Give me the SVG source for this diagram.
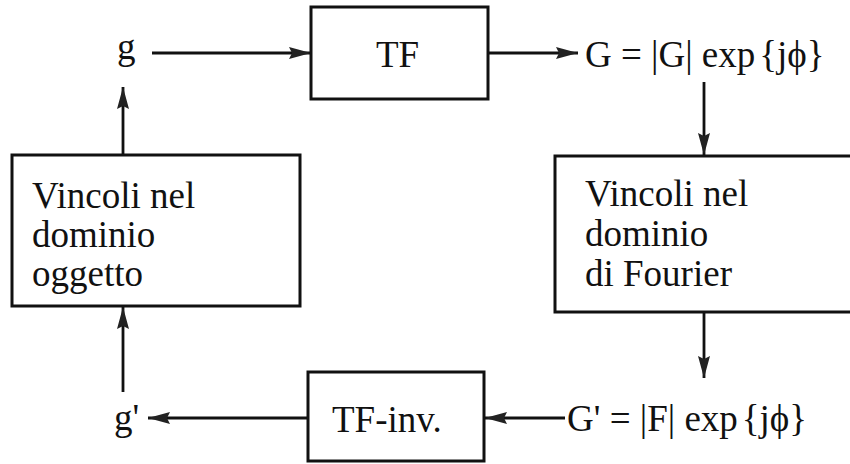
<svg xmlns="http://www.w3.org/2000/svg" width="850" height="464" viewBox="0 0 850 464">
<style>
text{font-family:"Liberation Serif","Times New Roman",serif;font-size:37px;fill:#111}
.box{fill:#fff;stroke:#111;stroke-width:3}
.ln{stroke:#111;stroke-width:2.8;fill:none}
</style>
<defs>
<marker id="ah" viewBox="0 0 22 12" refX="22" refY="6" markerWidth="22" markerHeight="12" markerUnits="userSpaceOnUse" orient="auto">
<path d="M0,0 L22,6 L0,12 L3,6 Z" fill="#222"/>
</marker>
</defs>
<rect width="850" height="464" fill="#fff"/>
<g id="connectors">
<line class="ln" x1="152" y1="53" x2="311" y2="53" marker-end="url(#ah)"/>
<line class="ln" x1="488" y1="53" x2="578" y2="53" marker-end="url(#ah)"/>
<line class="ln" x1="704" y1="82" x2="704" y2="155" marker-end="url(#ah)"/>
<line class="ln" x1="704" y1="312" x2="704" y2="378" marker-end="url(#ah)"/>
<line class="ln" x1="565" y1="418" x2="485" y2="418" marker-end="url(#ah)"/>
<line class="ln" x1="308" y1="418" x2="148" y2="418" marker-end="url(#ah)"/>
<line class="ln" x1="123" y1="392" x2="123" y2="307" marker-end="url(#ah)"/>
<line class="ln" x1="123" y1="155" x2="123" y2="87" marker-end="url(#ah)"/>
</g>
<g id="g"><text x="117" y="59">g</text></g>
<g id="tf"><rect class="box" x="311" y="7" width="177" height="92"/><text x="376" y="67">TF</text></g>
<g id="G"><text x="585" y="67">G = |G| exp<tspan dx="4">{jϕ}</tspan></text></g>
<g id="vfourier"><rect class="box" x="555" y="156" width="300" height="156"/>
<text x="585" y="206">Vincoli nel</text><text x="585" y="246">dominio</text><text x="585" y="286">di Fourier</text></g>
<g id="Gp"><text x="567" y="431">G' = |F| exp<tspan dx="4">{jϕ}</tspan></text></g>
<g id="tfinv"><rect class="box" x="308" y="372" width="176" height="89"/><text x="332" y="432">TF-inv.</text></g>
<g id="gp"><text x="114" y="430">g'</text></g>
<g id="voggetto"><rect class="box" x="12" y="155" width="288" height="151"/>
<text x="32" y="208">Vincoli nel</text><text x="32" y="247">dominio</text><text x="32" y="286">oggetto</text></g>
</svg>
